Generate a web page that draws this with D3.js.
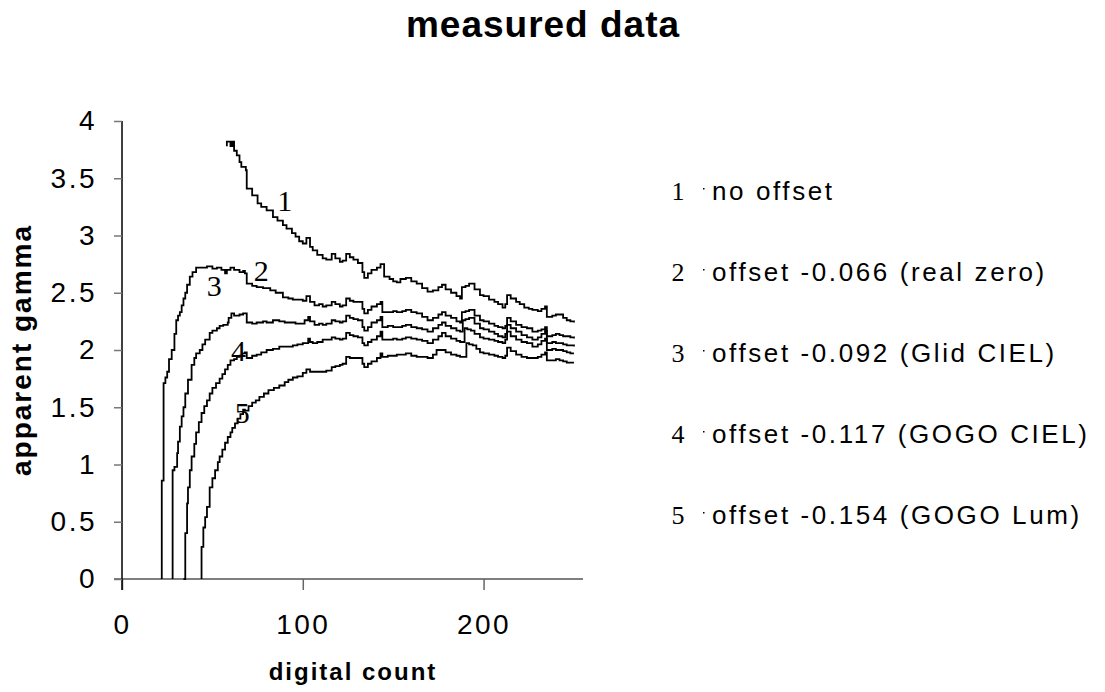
<!DOCTYPE html>
<html>
<head>
<meta charset="utf-8">
<script src="https://cdn.jsdelivr.net/npm/d3@7"></script>
<style>
  body { margin: 0; background: #fff; }
  text { font-family: "Liberation Sans", Arial, sans-serif; }
</style>
</head>
<body>
<svg id="chart"></svg>
<script>
// curves: [digital count, apparent gamma]
const noOffset = [[58,3.78],[58,3.82],[60,3.78],[61,3.82],[62,3.74],[63.5,3.70],[65,3.64],[66,3.60],[68.5,3.57],[69,3.41],[72,3.35],[75,3.28],[77,3.25],[80,3.22],[83.5,3.16],[86,3.13],[89,3.09],[91,3.06],[94,3.02],[96,2.99],[98,2.95],[100,2.93],[102,2.98],[104,2.90],[105.5,2.87],[108,2.83],[111,2.80],[113,2.79],[116,2.84],[118,2.80],[120.5,2.77],[122,2.78],[124,2.84],[126,2.81],[128,2.79],[130.5,2.76],[133,2.68],[134,2.63],[136,2.67],[138,2.70],[141,2.72],[143,2.75],[145,2.64],[148,2.62],[150,2.60],[152,2.59],[154,2.62],[157,2.63],[160,2.60],[163,2.58],[166,2.54],[169,2.51],[172,2.52],[175,2.55],[177,2.57],[179,2.53],[182,2.50],[185,2.47],[187,2.45],[188,2.55],[190,2.56],[192,2.58],[195,2.53],[198,2.48],[200,2.47],[203,2.44],[206,2.42],[208,2.40],[210.5,2.37],[212,2.40],[213,2.48],[215,2.45],[218,2.42],[220,2.40],[222.5,2.37],[225,2.36],[227,2.35],[230,2.34],[232,2.36],[234,2.38],[235,2.29],[238,2.30],[240,2.31],[242,2.31],[244,2.28],[246,2.26],[248,2.25],[250,2.24]];
const offset066 = [[22,0],[22,0.86],[23,0.9],[23,1.71],[24,1.76],[25,1.81],[26,1.92],[27.5,2.0],[29,2.14],[30,2.26],[31,2.30],[32,2.33],[33,2.39],[34,2.45],[35,2.50],[36,2.57],[37.5,2.64],[39,2.68],[41,2.72],[44,2.72],[47,2.73],[50,2.71],[52.5,2.72],[55,2.70],[57,2.67],[58,2.70],[60,2.72],[62,2.70],[65,2.68],[67,2.69],[68,2.67],[69,2.58],[72,2.56],[74.5,2.55],[78,2.54],[82,2.52],[85,2.50],[89,2.46],[92,2.45],[94.5,2.44],[98,2.44],[100,2.43],[102,2.47],[104,2.42],[106.5,2.39],[109,2.40],[111,2.38],[113,2.39],[116,2.42],[118,2.40],[120.5,2.38],[122,2.39],[124,2.45],[126,2.43],[128,2.42],[130.5,2.42],[133,2.36],[134,2.32],[136,2.35],[138,2.38],[141,2.40],[143,2.42],[144,2.33],[147,2.33],[150,2.34],[152,2.33],[155,2.34],[157,2.35],[160,2.33],[163,2.32],[166,2.29],[169,2.26],[172,2.28],[175,2.31],[177,2.33],[179,2.30],[182,2.28],[185,2.25],[187,2.24],[188,2.33],[190,2.34],[192,2.35],[195,2.30],[198,2.26],[200,2.25],[203,2.23],[206,2.21],[208,2.20],[210.5,2.19],[212,2.21],[213,2.28],[215,2.25],[218,2.22],[221,2.20],[224,2.19],[227,2.16],[230,2.17],[232,2.18],[234,2.20],[235,2.12],[238,2.13],[240,2.14],[242,2.13],[244,2.12],[246,2.12],[248,2.11],[250,2.10]];
const offset092 = [[28,0],[28,0.95],[29,0.98],[30.5,1.10],[31,1.2],[32,1.33],[33,1.42],[34,1.50],[35,1.62],[36.5,1.74],[38.5,1.87],[40,1.93],[41,1.97],[43,2.00],[44.5,2.05],[46,2.09],[48.5,2.15],[50,2.17],[52.5,2.19],[54,2.21],[56,2.22],[58.5,2.24],[59,2.28],[60.5,2.32],[62,2.30],[65,2.31],[67,2.32],[68,2.32],[69,2.24],[72,2.23],[74.5,2.24],[78,2.25],[80,2.24],[83.5,2.26],[87,2.25],[90,2.24],[93,2.24],[96,2.23],[99.5,2.23],[101,2.26],[103,2.29],[104,2.25],[106.5,2.22],[109,2.23],[111,2.22],[113,2.23],[116,2.26],[118,2.25],[120.5,2.24],[122,2.25],[124,2.30],[126,2.28],[128,2.27],[130.5,2.26],[133,2.20],[134,2.17],[136,2.20],[138,2.24],[141,2.26],[143,2.29],[144,2.20],[147,2.21],[150,2.20],[152,2.20],[155,2.21],[157,2.22],[160,2.20],[163,2.19],[166,2.18],[169,2.16],[172,2.19],[175,2.22],[177,2.24],[179,2.21],[182,2.19],[185,2.17],[187,2.16],[188.5,2.26],[190,2.27],[192,2.28],[195,2.23],[198,2.19],[200,2.18],[203,2.16],[206,2.14],[208,2.12],[210.5,2.11],[212,2.14],[213,2.22],[215,2.19],[218,2.16],[221,2.13],[224,2.11],[227,2.09],[230,2.11],[232,2.14],[234,2.17],[235,2.06],[238,2.07],[240,2.06],[242,2.06],[244,2.05],[246,2.04],[248,2.04],[250,2.03]];
const offset117 = [[34,0],[35,0.10],[35,0.4],[36,0.66],[36.5,0.80],[37.5,0.95],[38.5,1.07],[40,1.18],[41,1.28],[42.5,1.37],[44,1.45],[45.5,1.51],[47,1.56],[48.5,1.62],[50,1.67],[52,1.71],[54,1.75],[55.5,1.79],[57,1.83],[58.5,1.87],[60,1.91],[62,1.92],[63.5,1.94],[65,1.95],[66.5,1.97],[68,1.98],[69,1.93],[72,1.95],[74.5,1.96],[77,1.98],[80,2.00],[83.5,2.01],[87,2.03],[91,2.03],[94.5,2.04],[97,2.05],[100,2.06],[103,2.10],[104,2.07],[105.5,2.06],[108,2.07],[111,2.09],[113,2.09],[116,2.11],[118,2.10],[120.5,2.09],[122,2.10],[124,2.15],[126,2.13],[128,2.12],[130.5,2.11],[133,2.06],[134,2.04],[136,2.07],[138,2.09],[141,2.12],[143,2.16],[144,2.09],[147,2.09],[150,2.10],[152,2.09],[155,2.10],[157,2.11],[160,2.10],[163,2.09],[166,2.08],[169,2.06],[172,2.09],[175,2.12],[177,2.15],[179,2.12],[182,2.10],[185,2.08],[187,2.07],[189.5,2.19],[191,2.18],[193,2.17],[195,2.14],[198,2.11],[200,2.10],[203,2.09],[206,2.08],[208,2.07],[210.5,2.06],[212,2.09],[213,2.16],[215,2.12],[218,2.09],[221,2.07],[224,2.06],[227,2.03],[230,2.05],[232,2.08],[234,2.10],[235,2.00],[238,2.01],[240,2.00],[242,2.00],[244,1.99],[246,1.98],[248,1.97],[250,1.97]];
const offset154 = [[44,0],[44,0.28],[45,0.45],[46,0.54],[47,0.63],[48.5,0.80],[50,0.88],[51.5,0.95],[53,1.02],[54,1.07],[55.5,1.13],[57,1.19],[58.5,1.24],[60,1.28],[61,1.32],[62.5,1.36],[64,1.40],[65.5,1.44],[67,1.48],[68,1.47],[70,1.51],[72,1.54],[74,1.56],[76,1.59],[78.5,1.62],[81,1.65],[84,1.67],[87,1.69],[90,1.72],[92,1.74],[94.5,1.76],[97,1.77],[100,1.80],[102,1.83],[104,1.81],[105.5,1.81],[108,1.81],[111,1.81],[113,1.82],[116,1.85],[118,1.86],[120.5,1.87],[122,1.88],[124,1.94],[126,1.93],[128,1.93],[130.5,1.93],[133,1.88],[134,1.85],[136,1.88],[138,1.90],[141,1.93],[143,1.97],[144,1.94],[147,1.95],[150,1.95],[152,1.96],[155,1.96],[157,1.97],[160,1.95],[163,1.94],[166,1.94],[169,1.93],[172,1.96],[174,2.00],[177,2.00],[179,1.98],[182,1.96],[185,1.95],[187,1.94],[190.5,2.06],[192,2.05],[194,2.04],[196,2.01],[198,1.98],[200,1.97],[203,1.96],[206,1.95],[208,1.94],[210.5,1.93],[212,1.95],[213,2.02],[215,1.99],[218,1.96],[221,1.94],[224,1.93],[227,1.93],[230,1.94],[232,1.96],[234,1.98],[235,1.91],[238,1.91],[240,1.92],[242,1.91],[244,1.90],[246,1.89],[248,1.89],[250,1.89]];

const seriesIds = ["1", "2", "3", "4", "5"];
const seriesNames = [
  "no offset",
  "offset -0.066 (real zero)",
  "offset -0.092 (Glid CIEL)",
  "offset -0.117 (GOGO CIEL)",
  "offset -0.154 (GOGO Lum)",
];
// where each curve number sits, in data units
const labelAt = [[90, 3.31], [77, 2.69], [51, 2.56], [64.5, 2.0], [66.5, 1.45]];
const xTicks = [0, 100, 200];
const yTicks = [0, 0.5, 1, 1.5, 2, 2.5, 3, 3.5, 4];

const curves = [noOffset, offset066, offset092, offset117, offset154];

const W = 1105, H = 692;
const margin = { top: 121, left: 122 };
const width = 461, height = 458;

const svg = d3.select("#chart").attr("width", W).attr("height", H);

const x = d3.scaleLinear().domain([0, 255]).range([0, width]);
const y = d3.scaleLinear().domain([0, 4]).range([height, 0]);

const g = svg.append("g")
  .attr("transform", "translate(" + margin.left + "," + margin.top + ")");

// title
svg.append("text")
  .attr("x", 543).attr("y", 37)
  .attr("text-anchor", "middle")
  .style("font-size", "37px").style("font-weight", "bold")
  .style("letter-spacing", "1px")
  .text("measured data");

// axes
const xAxis = g.append("g")
  .attr("transform", "translate(0," + height + ")")
  .call(d3.axisBottom(x).tickValues(xTicks).tickSize(11).tickPadding(24).tickFormat(d3.format("d")));
xAxis.select(".domain").attr("d", "M-8,0H" + width).attr("stroke", "#555").attr("stroke-width", 1.5);
xAxis.selectAll(".tick line").attr("stroke", "#666").attr("stroke-width", 1.5);

const yAxis = g.append("g")
  .call(d3.axisLeft(y).tickValues(yTicks).tickSize(8).tickPadding(17).tickFormat(d3.format("")));
yAxis.select(".domain").attr("d", "M0,0V" + (height + 11)).attr("stroke", "#000").attr("stroke-width", 1.5);
yAxis.selectAll(".tick line").attr("stroke", "#777").attr("stroke-width", 1.5);

g.selectAll(".tick text")
  .style("font-family", "'Liberation Sans', Arial, sans-serif")
  .style("font-size", "28px")
  .style("letter-spacing", "2.5px")
  .attr("fill", "#000");
xAxis.selectAll(".tick text").attr("dy", "0.71em");

// axis titles
svg.append("text")
  .attr("x", 353).attr("y", 680)
  .attr("text-anchor", "middle")
  .style("font-size", "24px").style("font-weight", "bold")
  .style("letter-spacing", "2px")
  .text("digital count");

svg.append("text")
  .attr("transform", "translate(31,350) rotate(-90)")
  .attr("text-anchor", "middle")
  .style("font-size", "28px").style("font-weight", "bold")
  .style("letter-spacing", "2px")
  .text("apparent gamma");

// curves
const line = d3.line()
  .curve(d3.curveStepAfter)
  .x((d) => x(d[0]))
  .y((d) => y(d[1]));

g.selectAll(".curve")
  .data(curves)
  .enter()
  .append("path")
  .attr("class", "curve")
  .attr("d", line)
  .attr("fill", "none")
  .attr("stroke", "#000")
  .attr("stroke-width", 1.8);

// curve numbers
g.selectAll(".curve-label")
  .data(labelAt)
  .enter()
  .append("text")
  .attr("class", "curve-label")
  .attr("x", (d) => x(d[0]))
  .attr("y", (d) => y(d[1]))
  .attr("dy", "0.35em")
  .attr("text-anchor", "middle")
  .style("font-family", "'Liberation Serif', 'Times New Roman', serif")
  .style("font-size", "30px")
  .text((d, i) => seriesIds[i]);

// legend
const legend = svg.append("g").attr("transform", "translate(678,200)");
const rows = legend.selectAll(".row")
  .data(seriesNames)
  .enter()
  .append("g")
  .attr("class", "row")
  .attr("transform", (d, i) => "translate(0," + i * 81 + ")");

rows.append("text")
  .attr("text-anchor", "middle")
  .style("font-family", "'Liberation Serif', 'Times New Roman', serif")
  .style("font-size", "26px")
  .text((d, i) => seriesIds[i]);

rows.append("rect")
  .attr("x", 25).attr("y", -12)
  .attr("width", 1.5).attr("height", 1.5)
  .attr("fill", "#000");

rows.append("text")
  .attr("x", 34)
  .style("font-size", "26px")
  .style("letter-spacing", "2.6px")
  .text((d) => d);
</script>
</body>
</html>
